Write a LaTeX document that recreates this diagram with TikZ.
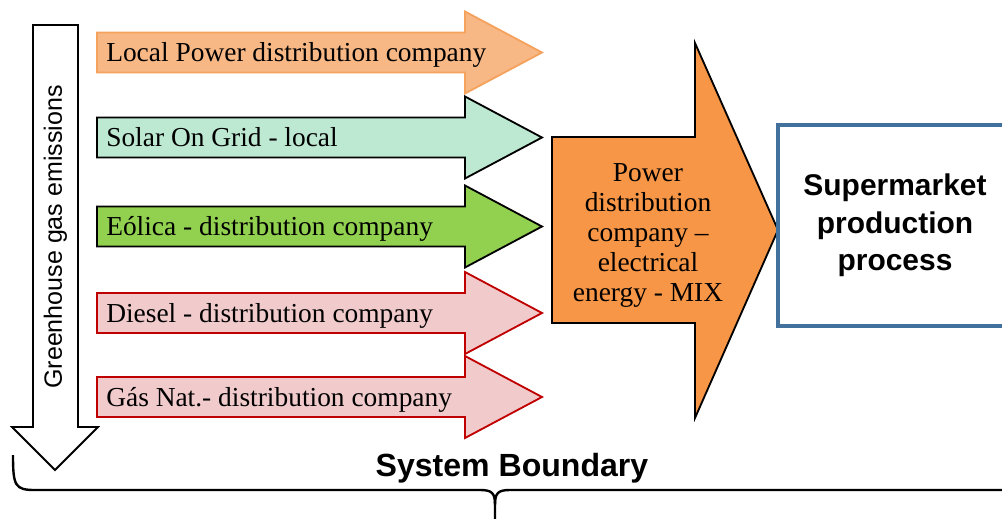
\documentclass[tikz,border=0pt]{standalone}
\usepackage{fontspec}
\setsansfont{Liberation Sans}
% serif for the arrow labels
\newfontfamily\pal{Liberation Serif}

\definecolor{lpdfill}{HTML}{F7B886}
\definecolor{lpdline}{HTML}{F5A25C}
\definecolor{solfill}{HTML}{BDE8D1}
\definecolor{eolfill}{HTML}{92D050}
\definecolor{fosfill}{HTML}{F1CACB}
\definecolor{fosline}{HTML}{C00000}
\definecolor{mixfill}{HTML}{F79646}
\definecolor{boxline}{HTML}{41719C}

\begin{document}
\begin{tikzpicture}[x=0.025cm,y=-0.025cm,
    feed/.style={line width=1.3pt,line join=miter},
    lbl/.style={font=\pal\fontsize{19.5}{21.3}\selectfont,inner sep=0pt,anchor=base west}]
  \useasboundingbox (0,0) rectangle (1002,519);

  % emissions arrow on the left
  \draw[feed,fill=white] (33,25) -- (78,25) -- (78,427) -- (98,427) -- (55,470) -- (12,427) -- (33,427) -- cycle;
  \node[rotate=90,inner sep=0pt,font=\sffamily\fontsize{17.8}{20}\selectfont] (ghg) at (55.5,237) {Greenhouse gas emissions};

  % the five supply arrows
  \foreach \i/\y/\fc/\dc/\txt in {
      1/52.5/lpdfill/lpdline/{Local Power distribution company},
      2/137.5/solfill/black/{Solar On Grid - local},
      3/226.5/eolfill/black/{Eólica - distribution company},
      4/313/fosfill/fosline/{Diesel - distribution company},
      5/397/fosfill/fosline/{Gás Nat.- distribution company}} {
    \draw[feed,fill=\fc,draw=\dc] (97,\y-20) -- (465,\y-20) -- (465,\y-41) -- (542,\y) -- (465,\y+41) -- (465,\y+20) -- (97,\y+20) -- cycle;
    \node[lbl] (src\i) at (106,\y+9) {\txt};
  }

  % energy mix
  \draw[feed,fill=mixfill] (552,137) -- (695,137) -- (695,43) -- (778,230) -- (695,418) -- (695,323) -- (552,323) -- cycle;
  \node[align=center,inner sep=0pt,font=\pal\fontsize{19.5}{21.3}\selectfont] (mix) at (648,235.5)
    {Power\\distribution\\company –\\electrical\\energy - MIX};

  % supermarket
  \node[draw=boxline,line width=2.8pt,minimum width=5.85cm,minimum height=5.02cm,align=center,
    font=\sffamily\bfseries\fontsize{21.3}{26.8}\selectfont] (proc) at (895,225.5) {Supermarket\\production\\process};

  % system boundary brace
  \draw[line width=1.7pt] (13,455) .. controls (13,486) and (15,490) .. (35,490) -- (480,490)
    .. controls (492,490) and (495,493) .. (495,505) -- (495,525);
  \draw[line width=1.7pt] (495,505) .. controls (495,493) and (498,490) .. (510,490) -- (1010,490);
  \node[anchor=base,inner sep=0pt,font=\sffamily\bfseries\fontsize{22.8}{26}\selectfont] (bound) at (512,476) {System Boundary};
\end{tikzpicture}
\end{document}
